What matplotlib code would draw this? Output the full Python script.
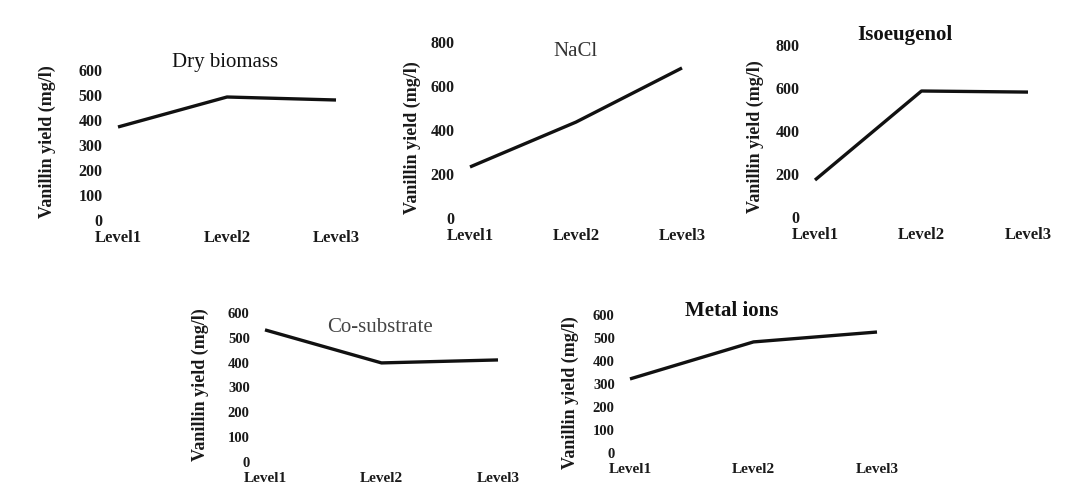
import matplotlib.pyplot as plt

plt.rcParams['font.family'] = ['Liberation Serif', 'DejaVu Serif']

levels = ["Level1", "Level2", "Level3"]
ylabel = "Vanillin yield (mg/l)"

# values (mg/l)
dry_biomass = [372, 492, 480]
nacl = [232, 436, 682]
isoeugenol = [172, 586, 581]
co_substrate = [532, 399, 411]
metal_ions = [322, 483, 526]

W, H = 1067, 486
fig = plt.figure(figsize=(W / 100, H / 100), dpi=100)
fig.patch.set_facecolor('white')

# panel layout in pixels: left (Level1), right (Level3), y of 0, y of top tick
panels = [
    # values, title, weight, title colour, title pos, ymax, ystep, box, ylabel pos, xpad, tick size
    (dry_biomass, "Dry biomass", "normal", "#111111", (225, 62), 600, 100, (118, 336, 220, 70), (47, 142), 7, 11.5),
    (nacl, "NaCl", "normal", "#333333", (575, 52), 800, 200, (470, 682, 218, 42), (412, 138), 7, 11.5),
    (isoeugenol, "Isoeugenol", "bold", "#111111", (905, 35), 800, 200, (815, 1028, 217, 45), (755, 137), 7, 11.5),
    (co_substrate, "Co-substrate", "normal", "#444444", (380, 327), 600, 100, (265, 498, 462, 313), (200, 385), 7, 10.5),
    (metal_ions, "Metal ions", "bold", "#111111", (732, 311), 600, 100, (630, 877, 453, 315), (570, 393), 7, 10.5),
]

for vals, title, weight, tcol, tpos, ymax, ystep, box, lpos, xpad, tsize in panels:
    x0, x1, y0, y1 = box
    ax = fig.add_axes([x0 / W, 1 - y0 / H, (x1 - x0) / W, (y0 - y1) / H])
    ax.plot(range(len(levels)), vals, color='#111111', lw=2.4, clip_on=False,
            solid_capstyle='butt')
    ax.set_xlim(0, len(levels) - 1)
    ax.set_ylim(0, ymax)
    ax.set_yticks(range(0, ymax + 1, ystep))
    ax.set_xticks(range(len(levels)))
    ax.set_xticklabels(levels)
    for s in ax.spines.values():
        s.set_visible(False)
    ax.tick_params(axis='y', length=0, pad=11, labelsize=tsize)
    ax.tick_params(axis='x', length=0, pad=xpad, labelsize=tsize + 0.5)
    for lab in ax.get_xticklabels() + ax.get_yticklabels():
        lab.set_fontweight('bold')
        lab.set_color('#1a1a1a')
    ax.patch.set_alpha(0)
    fig.text(lpos[0] / W, 1 - lpos[1] / H, ylabel, rotation=90, ha='center', va='center',
             fontsize=13, fontweight='bold', color='#1a1a1a')
    fig.text(tpos[0] / W, 1 - tpos[1] / H, title, ha='center', va='center',
             fontsize=15, fontweight=weight, color=tcol)

fig.savefig("out.png", dpi=100, facecolor='white')
